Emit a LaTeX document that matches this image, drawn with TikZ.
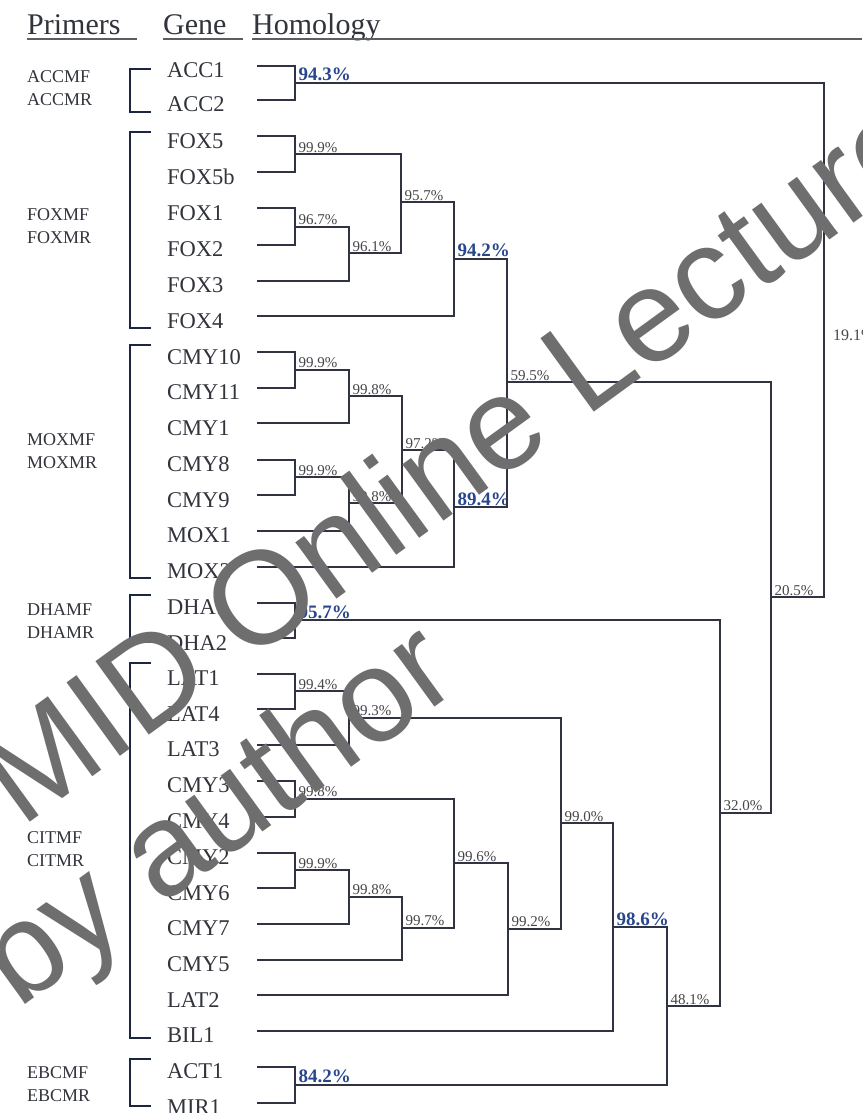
\documentclass[tikz,border=0pt]{standalone}
\usepackage{fontspec}
\setmainfont{Liberation Serif}
\newfontfamily\wmfont{Liberation Sans}
\usetikzlibrary{calc}
\definecolor{treecol}{RGB}{48,52,66}
\definecolor{brkcol}{RGB}{28,38,66}
\definecolor{txtcol}{RGB}{50,52,60}
\definecolor{labcol}{RGB}{70,70,75}
\definecolor{bluecol}{RGB}{40,70,140}
\definecolor{wmcol}{RGB}{110,110,110}
\begin{document}
\begin{tikzpicture}[x=1pt,y=-1pt,
  tree/.style={draw=treecol,line width=2pt},
  brk/.style={draw=brkcol,line width=2.6pt},
  uline/.style={draw=txtcol!80,line width=1.8pt},
  hdr/.style={text=txtcol,font=\fontsize{30}{32}\selectfont,inner sep=0pt,anchor=base west},
  gene/.style={text=txtcol,font=\fontsize{22.5}{24}\selectfont,inner sep=0pt,anchor=base west},
  prim/.style={text=txtcol,font=\fontsize{18}{20}\selectfont,inner sep=0pt,anchor=base west},
  lab/.style={text=labcol,font=\fontsize{15}{16}\selectfont,inner sep=0pt,anchor=base west},
  blab/.style={text=bluecol,font=\bfseries\fontsize{19}{20}\selectfont,inner sep=0pt,anchor=base west},
  wm/.style={text=wmcol,font=\wmfont\fontsize{132}{140}\selectfont,inner sep=0pt,anchor=base west,rotate=36}]
\useasboundingbox (0,0) rectangle (862,1113);
\clip (0,0) rectangle (862,1113);
\fill[white] (0,0) rectangle (862,1113);

% header
\node[hdr] (hP) at (27,35) {Primers};
\node[hdr] (hG) at (163,35) {Gene};
\node[hdr] (hH) at (252,35) {Homology};
\draw[uline] (27,39) -- (137,39);
\draw[uline] (163,39) -- (243,39);
\draw[uline] (252,39) -- (862,39);

% primer labels
\foreach \a/\b/\y in {ACCMF/ACCMR/83, FOXMF/FOXMR/220, MOXMF/MOXMR/445, DHAMF/DHAMR/615, CITMF/CITMR/843, EBCMF/EBCMR/1078}{
  \node[prim] (p\a) at (27,\y) {\a};
  \node[prim] (p\b) at (27,\y+23) {\b};
}
% primer brackets
\foreach \t/\b in {69/112, 132/328, 345/578, 595/642, 663/1038, 1059/1106}{
  \draw[brk] (151,\t) -- (130,\t) -- (130,\b) -- (151,\b);
}

% leaves
\foreach \n/\y in {ACC1/66, ACC2/100, FOX5/136, FOX5b/172, FOX1/208, FOX2/244.5, FOX3/280.5, FOX4/316,
  CMY10/352, CMY11/387.5, CMY1/423, CMY8/459.5, CMY9/495, MOX1/530.5, MOX2/566.5,
  DHA1/602.5, DHA2/638, LAT1/673.5, LAT4/709, LAT3/744.5, CMY3/780.5, CMY4/816.5,
  CMY2/852.5, CMY6/888, CMY7/923.5, CMY5/959.5, LAT2/995, BIL1/1030.5, ACT1/1066.5, MIR1/1102.5}{
  \node[gene] (n\n) at (167,\y+12) {\n};
  \coordinate (t\n) at (257,\y);
}

% junctions with labels
\foreach \n/\x/\y/\t/\s in {
  ACC/295/83/94.3\%/blab,
  F1/295/154/99.9\%/lab, F2/295/226.5/96.7\%/lab, F3/349/253/96.1\%/lab,
  F4/401/202/95.7\%/lab, F5/454/258.5/94.2\%/blab,
  M1/295/369.5/99.9\%/lab, M2/349/396/99.8\%/lab, M3/295/477/99.9\%/lab,
  M4/349/503/99.8\%/lab, M5/402/450/97.2\%/lab, M6/454/507/89.4\%/blab,
  A/507/382/59.5\%/lab,
  D/295/620/95.7\%/blab,
  L1/295/691/99.4\%/lab, L2/349/717.5/99.3\%/lab,
  C1/295/798.5/99.8\%/lab, C2/295/870/99.9\%/lab, C3/349/896.5/99.8\%/lab,
  C4/402/927.5/99.7\%/lab, C5/454/863/99.6\%/lab, C6/508/928.5/99.2\%/lab,
  C7/561/823/99.0\%/lab, C8/613/927/98.6\%/blab,
  E/295/1084.5/84.2\%/blab,
  B/667/1006/48.1\%/lab, K/720/812.5/32.0\%/lab, H/771/597/20.5\%/lab}{
  \coordinate (j\n) at (\x,\y);
  \node[\s] (l\n) at (\x+3.5,\y-2) {\t};
}
\coordinate (jR) at (824,340);
\node[lab,anchor=west,font=\fontsize{16}{17}\selectfont] (lR) at (833,335) {19.1\%};

% tree edges
\foreach \p/\a/\b in {
  ACC/tACC1/tACC2,
  F1/tFOX5/tFOX5b, F2/tFOX1/tFOX2, F3/jF2/tFOX3, F4/jF1/jF3, F5/jF4/tFOX4,
  M1/tCMY10/tCMY11, M2/jM1/tCMY1, M3/tCMY8/tCMY9, M4/jM3/tMOX1, M5/jM2/jM4, M6/jM5/tMOX2,
  A/jF5/jM6,
  D/tDHA1/tDHA2,
  L1/tLAT1/tLAT4, L2/jL1/tLAT3,
  C1/tCMY3/tCMY4, C2/tCMY2/tCMY6, C3/jC2/tCMY7, C4/jC3/tCMY5, C5/jC1/jC4,
  C6/jC5/tLAT2, C7/jL2/jC6, C8/jC7/tBIL1,
  E/tACT1/tMIR1,
  B/jC8/jE, K/jD/jB, H/jA/jK, R/jACC/jH}{
  \draw[tree] (\a) -| (j\p) |- (\b);
}

% watermark
\node[wm] (wm1) at (-50,880) {PMID Online Lecture};
\node[wm] (wm2) at (18,1010) {by author};
\end{tikzpicture}
\end{document}
